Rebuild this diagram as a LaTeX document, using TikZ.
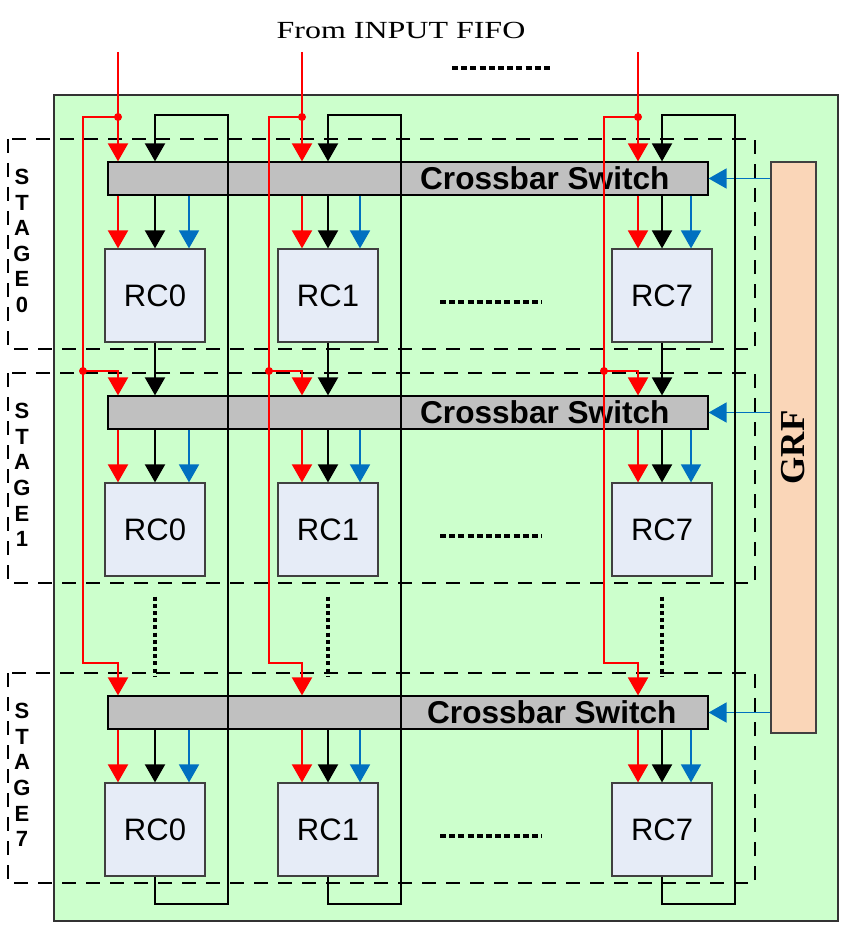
\documentclass[tikz,border=0pt]{standalone}
\usepackage{fontspec}
\setmainfont{Liberation Serif}
\setsansfont{Liberation Sans}
\usetikzlibrary{arrows.meta}
\definecolor{BoardGreen}{HTML}{CCFFCC}
\definecolor{XbarGray}{HTML}{C0C0C0}
\definecolor{CellBlue}{HTML}{E6ECF7}
\definecolor{GrfPeach}{HTML}{FAD6B8}
\definecolor{LinkBlue}{HTML}{0070C0}
\definecolor{LinkRed}{HTML}{FF0000}

\begin{document}
\begin{tikzpicture}[x=0.5pt, y=-0.5pt,
    xbar/.style={draw, line width=0.6pt, fill=XbarGray, rectangle, minimum width=300pt, minimum height=16.5pt, inner sep=0pt},
    cell/.style={draw=black!75, line width=0.6pt, fill=CellBlue, rectangle, minimum width=50pt, minimum height=46.5pt, inner sep=0pt, font=\sffamily\fontsize{15.5}{18}\selectfont},
    stagebox/.style={line width=1pt, dash pattern=on 7pt off 5pt},
    wire/.style={line width=1pt},
    link/.style={wire, -{Triangle[width=10pt,length=9pt]}},
    redlink/.style={link, LinkRed},
    bluelink/.style={link, LinkBlue, line width=0.9pt},
    dotrow/.style={line width=1.7pt, dash pattern=on 3pt off 1.6pt},
    dotcol/.style={line width=1.7pt, dash pattern=on 2pt off 1.6pt}]
  \useasboundingbox (0,0) rectangle (842,925);

  % board and title
  \draw[fill=BoardGreen, draw=black!80, line width=0.8pt] (54,95) rectangle (838,921);
  \node [font=\fontsize{12.3}{14}\selectfont] (title) at (401,30) {\scalebox{1.3}[1]{From INPUT FIFO}};
  \draw[dotrow] (452,68) -- (552,68);

  % global register file
  \node [draw=black!75, line width=0.6pt, fill=GrfPeach, rectangle, minimum width=22.5pt, minimum height=285.5pt, inner sep=0pt] (grf) at (793.5,447.5) {};
  \node [rotate=90, font=\bfseries\fontsize{17.5}{20}\selectfont] (grflabel) at (grf.center) {GRF};

  % stages
  \foreach \st/\dy/\tx in {0/0/16, 1/234/16, 7/534/12.5} {
    \draw[stagebox] (8,139+\dy) rectangle (755,349+\dy);
    \node [font=\sffamily\bfseries\fontsize{11}{12.8}\selectfont, align=center] (tag\st) at (22,241+\dy) {S\\T\\A\\G\\E\\\st};
    \node [xbar] (xbar\st) at (408,178.5+\dy) {};
    \node [font=\sffamily\bfseries\fontsize{15.8}{18}\selectfont, anchor=east, xshift=-\tx pt] (xlabel\st) at (xbar\st.east) {Crossbar Switch};
    \draw[dotrow] (440,302+\dy) -- (542,302+\dy);
    \draw[bluelink] (grf.west |- xbar\st) -- (xbar\st.east);
    \foreach \col/\xc in {0/155, 1/328, 7/662}
      \node [cell] (rc\st-\col) at (\xc,295.5+\dy) {RC\col};
  }

  % columns
  \foreach \col/\xc/\xr/\xl/\xb in {0/155/118/83/189, 1/328/302/269/360, 7/662/638/604/691} {
    \coordinate (in\col) at (\xr,52);
    \coordinate (tap\col) at (\xr,117);
    \coordinate (tapb\col) at (\xl,371);
    \coordinate (bl\col) at (\xb,0);
    % inputs from the FIFO
    \draw[redlink] (in\col) -- (xbar0.north -| in\col);
    \draw[redlink] (tap\col) -| (\xl,663) -| (xbar7.north -| in\col);
    \draw[redlink] (tapb\col) -| (xbar1.north -| in\col);
    \fill[LinkRed] (tap\col) circle (2pt);
    \fill[LinkRed] (tapb\col) circle (2pt);
    % feedback from the last stage
    \draw[link] (rc7-\col.south) -- ++(0,27) -| (\xc+73,115) -| (xbar0.north -| rc0-\col);
    \draw[link] (rc0-\col.south) -- (xbar1.north -| rc0-\col);
    \draw[dotcol] ([yshift=-10pt]rc1-\col.south) -- ([yshift=-50pt]rc1-\col.south);
    % crossbar to cells
    \foreach \st in {0,1,7} {
      \draw[redlink] (xbar\st.south -| in\col) -- (rc\st-\col.north -| in\col);
      \draw[link] (xbar\st.south -| rc\st-\col) -- (rc\st-\col.north);
      \draw[bluelink] (xbar\st.south -| bl\col) -- (rc\st-\col.north -| bl\col);
    }
  }
\end{tikzpicture}
\end{document}
